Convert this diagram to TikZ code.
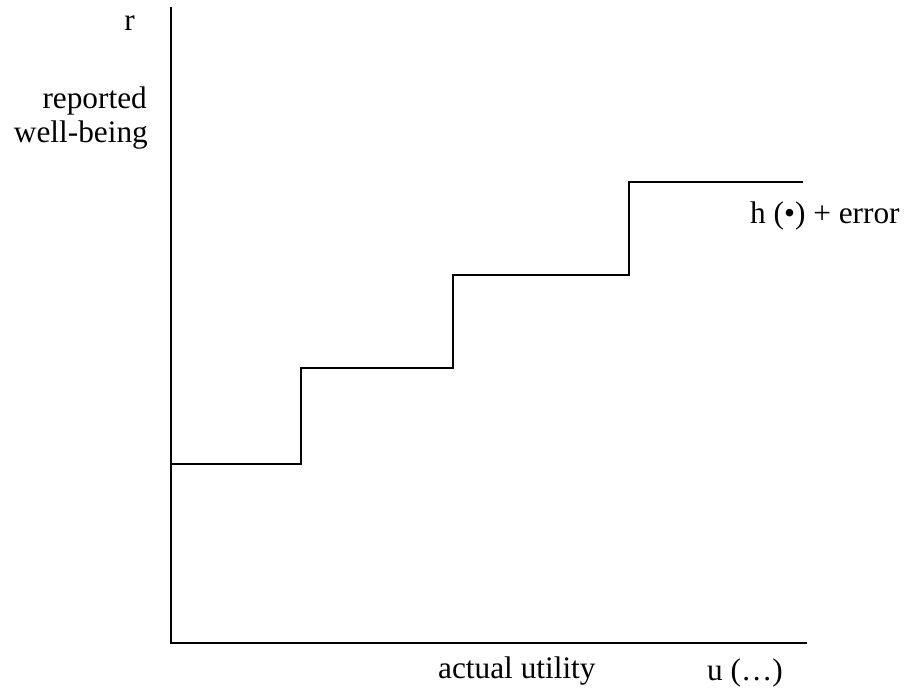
\documentclass[tikz,border=0pt]{standalone}
\usepackage{fontspec}
\setmainfont{Liberation Serif}
\begin{document}
\begin{tikzpicture}[x=1pt,y=-1pt,
  axis/.style={line width=2pt, line cap=rect},
  stepline/.style={line width=2pt},
  lbl/.style={inner sep=0pt, font=\fontsize{31.3}{34}\selectfont}]
\useasboundingbox (0,0) rectangle (908,693);
% axes
\coordinate (top) at (171,8);
\coordinate (origin) at (171,643);
\coordinate (xend) at (806,643);
\draw[axis] (top) -- (origin) -- (xend);
% step function
\coordinate (s0) at (171,464);
\coordinate (s1) at (301,464);
\coordinate (s2) at (301,368);
\coordinate (s3) at (453,368);
\coordinate (s4) at (453,275);
\coordinate (s5) at (629,275);
\coordinate (s6) at (629,182);
\coordinate (s7) at (803,182);
\draw[stepline] (s0) -- (s1) -- (s2) -- (s3) -- (s4) -- (s5) -- (s6) -- (s7);
% labels
\node[lbl, anchor=base east] (r) at (135,31) {r};
\node[lbl, anchor=base east] (rep) at (147,108) {reported};
\node[lbl, anchor=base east] (wb) at (148,142) {well-being};
\node[lbl, anchor=base west] (h) at (750,223) {h (•) + error};
\node[lbl, anchor=base west] (au) at (438,678) {actual utility};
\node[lbl, anchor=base west] (u) at (707,680) {u (…)};
\end{tikzpicture}
\end{document}
